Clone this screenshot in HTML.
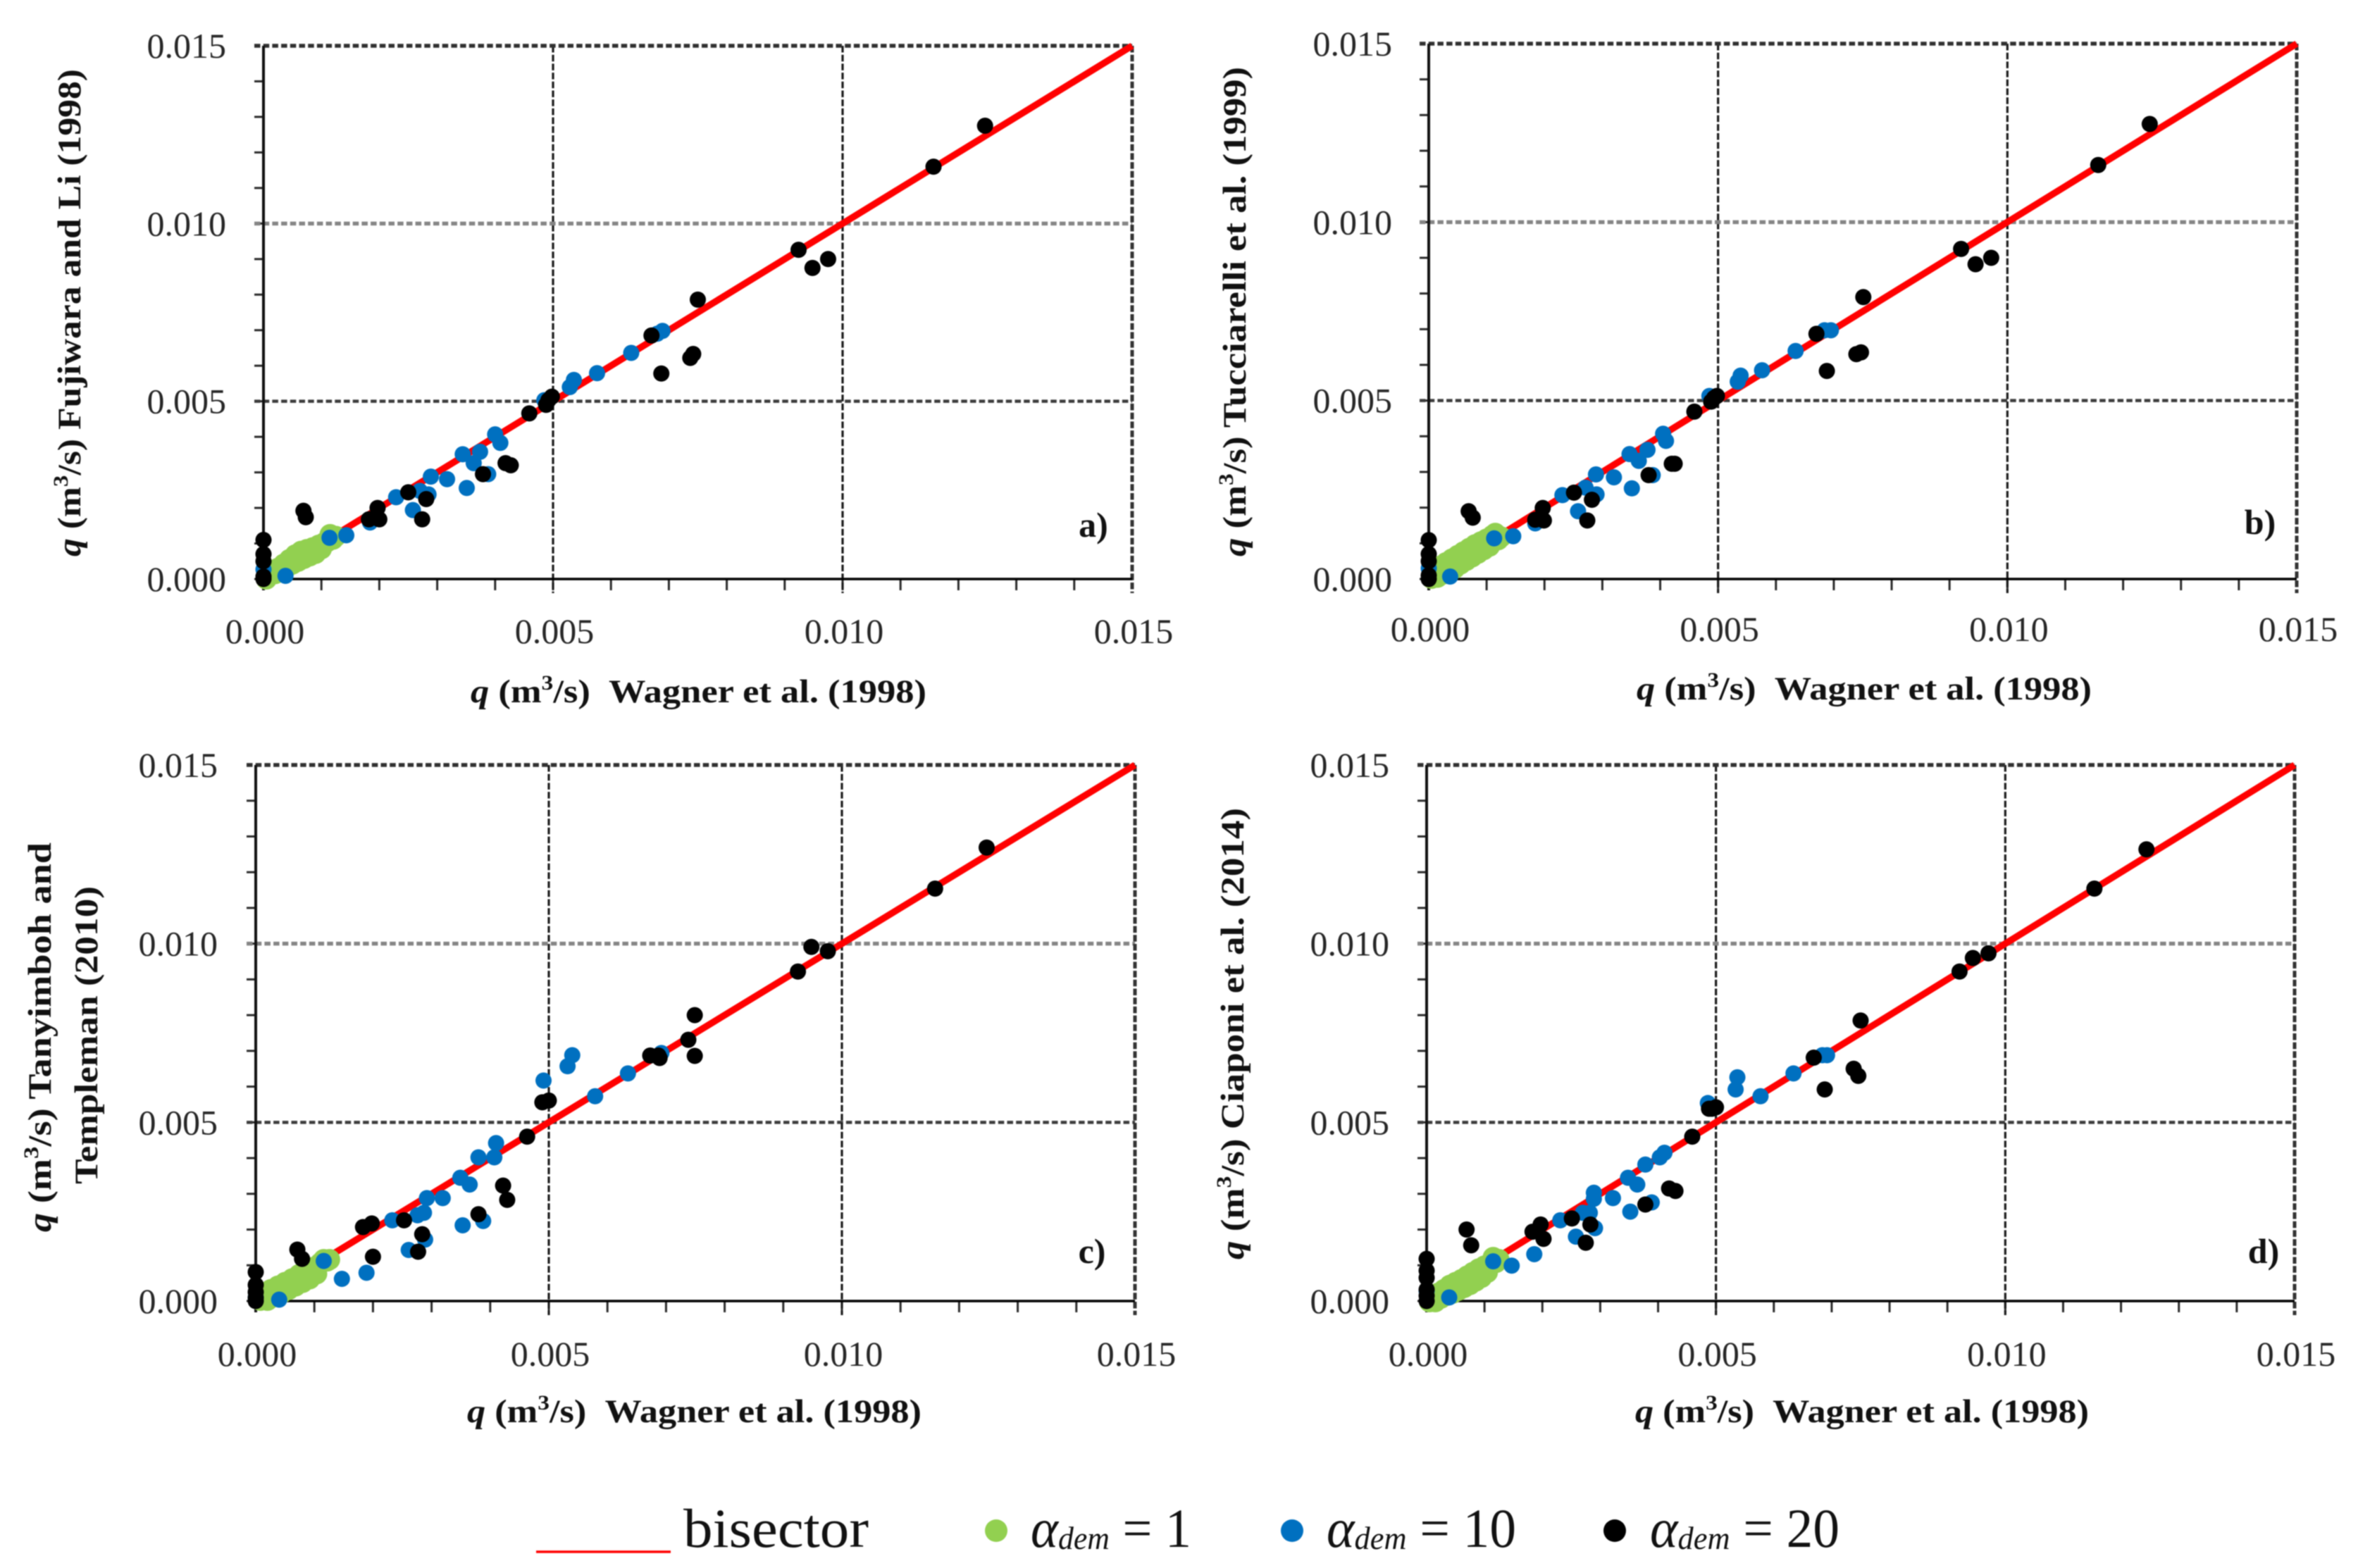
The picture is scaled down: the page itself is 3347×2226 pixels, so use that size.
<!DOCTYPE html>
<html lang="en">
<head>
<meta charset="utf-8">
<title>Comparison of demand-driven flows against Wagner et al. (1998)</title>
<style>
html,body{margin:0;padding:0;background:#fff;}
svg{display:block;filter:blur(0.8px);}
text{font-family:"Liberation Serif",serif;fill:#262626;}
.tick{font-size:50px;}
.title{font-size:47px;font-weight:bold;fill:#111;}
.tag{font-size:50px;font-weight:bold;fill:#111;}
.leg{font-size:78px;fill:#111;}
</style>
</head>
<body>
<svg id="figure" xmlns="http://www.w3.org/2000/svg" width="3347" height="2226" viewBox="0 0 3347 2226">
<rect x="0" y="0" width="3347" height="2226" fill="#fff"/>
<g id="panel-a"></g>
<g id="panel-b"></g>
<g id="panel-c"></g>
<g id="panel-d"></g>

<g>
<text class="title" x="668" y="997" textLength="647" lengthAdjust="spacingAndGlyphs"><tspan font-style="italic">q</tspan> (m<tspan dy="-18" font-size="30">3</tspan><tspan dy="18">/s)&#160;&#160;Wagner et al. (1998)</tspan></text>
<text class="title" x="2323" y="993" textLength="646" lengthAdjust="spacingAndGlyphs"><tspan font-style="italic">q</tspan> (m<tspan dy="-18" font-size="30">3</tspan><tspan dy="18">/s)&#160;&#160;Wagner et al. (1998)</tspan></text>
<text class="title" x="663" y="2019" textLength="645" lengthAdjust="spacingAndGlyphs"><tspan font-style="italic">q</tspan> (m<tspan dy="-18" font-size="30">3</tspan><tspan dy="18">/s)&#160;&#160;Wagner et al. (1998)</tspan></text>
<text class="title" x="2321" y="2019" textLength="644" lengthAdjust="spacingAndGlyphs"><tspan font-style="italic">q</tspan> (m<tspan dy="-18" font-size="30">3</tspan><tspan dy="18">/s)&#160;&#160;Wagner et al. (1998)</tspan></text>

<text class="title" transform="translate(114,790) rotate(-90)" textLength="692" lengthAdjust="spacingAndGlyphs"><tspan font-style="italic">q</tspan> (m<tspan dy="-18" font-size="30">3</tspan><tspan dy="18">/s) Fujiwara and Li (1998)</tspan></text>
<text class="title" transform="translate(1768,790) rotate(-90)" textLength="695" lengthAdjust="spacingAndGlyphs"><tspan font-style="italic">q</tspan> (m<tspan dy="-18" font-size="30">3</tspan><tspan dy="18">/s) Tucciarelli et al. (1999)</tspan></text>
<text class="title" transform="translate(72,1749) rotate(-90)" textLength="553" lengthAdjust="spacingAndGlyphs"><tspan font-style="italic">q</tspan> (m<tspan dy="-18" font-size="30">3</tspan><tspan dy="18">/s) Tanyimboh and</tspan></text>
<text class="title" transform="translate(138,1681) rotate(-90)" textLength="423" lengthAdjust="spacingAndGlyphs">Templeman (2010)</text>
<text class="title" transform="translate(1765,1788) rotate(-90)" textLength="641" lengthAdjust="spacingAndGlyphs"><tspan font-style="italic">q</tspan> (m<tspan dy="-18" font-size="30">3</tspan><tspan dy="18">/s) Ciaponi et al. (2014)</tspan></text>
</g>

<g>
<text class="tag" x="1552" y="762" text-anchor="middle">a)</text>
<text class="tag" x="3208" y="758" text-anchor="middle">b)</text>
<text class="tag" x="1550" y="1793" text-anchor="middle">c)</text>
<text class="tag" x="3213" y="1793" text-anchor="middle">d)</text>
</g>

<g>
<g>
<line x1="761" y1="2203" x2="952" y2="2203" stroke="#f00" stroke-width="3.5"/>
<text class="leg" x="970" y="2196" textLength="263" lengthAdjust="spacingAndGlyphs">bisector</text>
</g>
<g>
<circle cx="1414" cy="2173" r="16" fill="#92d050"/>
<text class="leg" x="1463" y="2196" textLength="228" lengthAdjust="spacingAndGlyphs"><tspan font-style="italic">α</tspan><tspan font-style="italic" font-size="46" dy="3">dem</tspan><tspan dy="-3"> = 1</tspan></text>
</g>
<g>
<circle cx="1834" cy="2173" r="16" fill="#0070c0"/>
<text class="leg" x="1883" y="2196" textLength="269" lengthAdjust="spacingAndGlyphs"><tspan font-style="italic">α</tspan><tspan font-style="italic" font-size="46" dy="3">dem</tspan><tspan dy="-3"> = 10</tspan></text>
</g>
<g>
<circle cx="2292" cy="2173" r="16" fill="#000"/>
<text class="leg" x="2342" y="2196" textLength="269" lengthAdjust="spacingAndGlyphs"><tspan font-style="italic">α</tspan><tspan font-style="italic" font-size="46" dy="3">dem</tspan><tspan dy="-3"> = 20</tspan></text>
</g>
</g>
</svg>

<script>
// All flows are in units of 10^-3 m3/s.
var axisMax = 15;
var majorTickValues = [0, 5, 10, 15];
var majorTickLabels = ['0.000', '0.005', '0.010', '0.015'];
var minorTickValues = [0, 1, 2, 3, 4, 5, 6, 7, 8, 9, 10, 11, 12, 13, 14];
var bisectorEnds = [0, 15];

// Panel a - Fujiwara and Li (1998)
var aGreenX = [0.05,0.1,0.15,0.2,0.25,0.3,0.35,0.4,0.45,0.5,0.55,0.6,0.65,0.7,0.75,0.8,0.85,0.9,0.95,1.0,1.05,1.1,1.15,1.2,1.25];
var aGreenY = [0.0,0.12,0.18,0.15,0.3,0.25,0.42,0.33,0.55,0.42,0.68,0.5,0.78,0.58,0.83,0.65,0.88,0.72,0.95,0.85,1.02,1.05,1.25,1.12,1.2];
var aBlueX = [0,0.38,1.14,1.43,1.84,2.29,2.7,2.85,2.58,2.89,3.17,3.51,3.44,3.74,3.63,3.88,4.0,4.09,4.85,5.29,5.36,5.76,6.35,6.8,6.89];
var aBlueY = [0.27,0.09,1.16,1.23,1.59,2.3,2.48,2.38,1.94,2.88,2.81,2.56,3.51,3.58,3.26,2.95,4.07,3.83,5.03,5.4,5.6,5.79,6.36,6.9,6.98];
var aBlackX = [0,0,0,0,0,0.69,0.73,1.82,2.0,1.97,2.5,2.81,2.74,3.79,4.18,4.27,4.59,4.88,4.92,4.98,6.87,7.37,7.42,7.5,6.7,9.24,9.48,9.75,11.57,12.46];
var aBlackY = [0,0.07,0.5,0.7,1.1,1.92,1.74,1.68,1.68,2.0,2.44,2.25,1.68,2.95,3.26,3.2,4.66,4.9,5.03,5.13,5.78,6.22,6.33,7.86,6.85,9.26,8.75,9.0,11.6,12.75];

// Panel b - Tucciarelli et al. (1999)
var bGreenX = [0.05,0.1,0.15,0.2,0.25,0.3,0.35,0.4,0.45,0.5,0.55,0.6,0.65,0.7,0.75,0.8,0.85,0.9,0.95,1.0,1.05,1.1,1.15,1.2,1.25];
var bGreenY = [0.02,0.24,0.05,0.36,0.14,0.46,0.24,0.56,0.3,0.66,0.42,0.76,0.52,0.86,0.62,0.96,0.72,1.04,0.82,1.12,0.92,1.22,1.28,1.1,1.18];
var bBlueX = [0,0.37,1.13,1.46,1.84,2.31,2.71,2.9,2.58,2.89,3.2,3.51,3.47,3.78,3.63,3.87,4.05,4.1,4.85,5.34,5.39,5.76,6.34,6.84,6.95];
var bBlueY = [0.3,0.07,1.14,1.2,1.56,2.35,2.56,2.37,1.9,2.93,2.85,2.54,3.5,3.62,3.31,2.91,4.07,3.87,5.13,5.53,5.7,5.85,6.39,6.97,6.97];
var bBlackX = [0,0,0,0,0,0.69,0.76,1.84,1.99,1.97,2.51,2.82,2.74,3.8,4.2,4.25,4.59,4.88,4.93,4.98,6.88,7.39,7.47,7.51,6.7,9.2,9.45,9.72,11.57,12.46];
var bBlackY = [0,0.1,0.5,0.7,1.09,1.9,1.72,1.66,1.64,1.99,2.42,2.22,1.64,2.91,3.23,3.23,4.69,4.97,5.07,5.13,5.83,6.3,6.35,7.9,6.87,9.25,8.82,9.0,11.6,12.75];

// Panel c - Tanyimboh and Templeman (2010)
var cGreenX = [0.08,0.14,0.2,0.26,0.32,0.38,0.44,0.5,0.56,0.62,0.68,0.74,0.8,0.86,0.92,0.98,1.04,1.1,1.16,1.22,1.26];
var cGreenY = [0.02,0.2,0.02,0.32,0.12,0.42,0.22,0.52,0.32,0.62,0.42,0.74,0.52,0.84,0.62,0.94,0.76,1.06,1.16,1.12,1.16];
var cBlueX = [0,0.4,1.16,1.47,1.89,2.61,2.89,2.33,2.76,2.87,2.92,3.19,3.49,3.65,3.53,3.88,3.8,4.07,4.1,4.91,5.32,5.4,5.79,6.35,6.92];
var cBlueY = [0.1,0.04,1.12,0.62,0.79,1.43,1.72,2.26,2.4,2.47,2.88,2.88,3.45,3.26,2.12,2.24,4.02,4.02,4.42,6.17,6.57,6.88,5.73,6.37,6.94];
var cBlackX = [0,0,0,0,0,0.71,0.79,2.0,1.83,1.98,2.53,2.84,2.77,3.8,4.22,4.29,4.63,4.89,5.0,6.73,6.87,6.89,7.49,7.38,7.49,9.25,9.48,9.76,11.59,12.47];
var cBlackY = [0,0.09,0.25,0.45,0.81,1.44,1.18,1.24,2.07,2.17,2.26,1.87,1.38,2.43,3.23,2.83,4.6,5.56,5.61,6.87,6.87,6.8,6.86,7.31,8.0,9.22,9.91,9.79,11.54,12.69];

// Panel d - Ciaponi et al. (2014)
var dGreenX = [0.05,0.1,0.15,0.2,0.25,0.3,0.35,0.4,0.45,0.5,0.55,0.6,0.65,0.7,0.75,0.8,0.85,0.9,0.95,1.0,1.05,1.1,1.15,1.2,1.25];
var dGreenY = [-0.02,0.14,-0.02,0.22,0.08,0.32,0.16,0.44,0.22,0.52,0.3,0.6,0.38,0.7,0.46,0.8,0.56,0.9,0.66,0.98,0.8,1.04,1.22,1.08,1.16];
var dBlueX = [0,0.39,1.15,1.47,1.86,2.58,2.91,2.31,2.7,2.82,2.89,2.89,3.22,3.52,3.89,3.48,3.64,3.78,4.03,4.11,4.86,5.34,5.37,5.77,6.34,6.84,6.92];
var dBlueY = [0.28,0.1,1.11,0.99,1.31,1.8,2.04,2.26,2.47,2.47,2.86,3.03,2.88,2.5,2.76,3.45,3.26,3.82,4.02,4.15,5.54,5.92,6.26,5.73,6.37,6.88,6.88];
var dBlackX = [0,0,0,0,0,0,0.69,0.77,1.83,1.97,2.02,2.51,2.83,2.75,3.78,4.19,4.3,4.59,4.88,4.93,5.0,6.69,6.88,7.38,7.46,7.5,9.21,9.44,9.71,11.54,12.44];
var dBlackY = [0,0.15,0.32,0.65,0.85,1.18,2.0,1.56,1.94,2.14,1.74,2.31,2.14,1.63,2.7,3.15,3.08,4.6,5.38,5.38,5.42,6.81,5.92,6.5,6.3,7.85,9.22,9.6,9.73,11.54,12.64];

var SVGNS = 'http://www.w3.org/2000/svg';
var MARKER_R = 11.5;
var GREEN_R = 15;

function shape(parent, tag, props) {
  var el = document.createElementNS(SVGNS, tag);
  for (var k in props) { el.setAttribute(k, props[k]); }
  parent.appendChild(el);
  return el;
}

function drawPanel(id, box, greenX, greenY, blueX, blueY, blackX, blackY) {
  var root = document.getElementById('panel-' + id);
  var sx = function (v) { return box.x0 + (v / axisMax) * (box.x1 - box.x0); };
  var sy = function (v) { return box.y0 - (v / axisMax) * (box.y0 - box.y1); };

  minorTickValues.forEach(function (v) {
    var tx = shape(root, 'line', {x1: sx(v), x2: sx(v), y1: box.y0, y2: box.y0 + 16, stroke: '#2a2a2a', 'stroke-width': 3});
    
    
    var ty = shape(root, 'line', {x1: box.x0 - 13, x2: box.x0, y1: sy(v), y2: sy(v), stroke: '#2a2a2a', 'stroke-width': 3});
    
    
  });

  var hStyles = {5: ['#3c3c3c', 4.5], 10: ['#858585', 5.5], 15: ['#303030', 5.5]};
  majorTickValues.forEach(function (v) {
    if (v === 0) { return; }
    var h = shape(root, 'line', {x1: box.x0 - 13, x2: box.x1, y1: sy(v), y2: sy(v), stroke: hStyles[v][0], 'stroke-width': hStyles[v][1], 'stroke-dasharray': '8.5 4.2'});
    
    
    var g = shape(root, 'line', {x1: sx(v), x2: sx(v), y1: box.y1, y2: box.y0 + 20, stroke: v === 15 ? '#333' : '#1a1a1a', 'stroke-width': v === 15 ? 5 : 3.2, 'stroke-dasharray': '9.5 3.2'});
    
    
  });

  var ax = shape(root, 'line', {x1: box.x0, x2: box.x1, y1: box.y0, y2: box.y0, stroke: '#000', 'stroke-width': 3.5});
  
  
  var ay = shape(root, 'line', {x1: box.x0, x2: box.x0, y1: box.y1, y2: box.y0 + 16, stroke: '#111', 'stroke-width': 4});
  
  

  majorTickValues.forEach(function (v, i) {
    var tx = shape(root, 'text', {'class': 'tick', x: sx(v) + 2, y: box.xLabelY, 'text-anchor': 'middle'});
    tx.textContent = majorTickLabels[i];
    
    
    var ty = shape(root, 'text', {'class': 'tick', x: box.yLabelX, y: sy(v) + 17, 'text-anchor': 'end'});
    ty.textContent = majorTickLabels[i];
    
    
  });

  var line = shape(root, 'line', {x1: sx(bisectorEnds[0]), y1: sy(bisectorEnds[0]), x2: sx(bisectorEnds[1]), y2: sy(bisectorEnds[1]), stroke: '#f00', 'stroke-width': 9.5});
  
  

  greenX.forEach(function (x, i) {
    var c = shape(root, 'circle', {cx: sx(x), cy: sy(greenY[i]), r: GREEN_R, fill: '#92d050'});
    
    
  });
  blueX.forEach(function (x, i) {
    var c = shape(root, 'circle', {cx: sx(x), cy: sy(blueY[i]), r: MARKER_R, fill: '#0070c0'});
    
    
  });
  blackX.forEach(function (x, i) {
    var c = shape(root, 'circle', {cx: sx(x), cy: sy(blackY[i]), r: MARKER_R, fill: '#000'});
    
    
  });
}

drawPanel('a', {x0: 374, x1: 1607, y0: 822, y1: 65, xLabelY: 913, yLabelX: 321}, aGreenX, aGreenY, aBlueX, aBlueY, aBlackX, aBlackY);
drawPanel('b', {x0: 2028, x1: 3260, y0: 822, y1: 62, xLabelY: 910, yLabelX: 1976}, bGreenX, bGreenY, bBlueX, bBlueY, bBlackX, bBlackY);
drawPanel('c', {x0: 363, x1: 1611, y0: 1847, y1: 1086, xLabelY: 1939, yLabelX: 309}, cGreenX, cGreenY, cBlueX, cBlueY, cBlackX, cBlackY);
drawPanel('d', {x0: 2025, x1: 3257, y0: 1847, y1: 1086, xLabelY: 1939, yLabelX: 1972}, dGreenX, dGreenY, dBlueX, dBlueY, dBlackX, dBlackY);
</script>
</body>
</html>
